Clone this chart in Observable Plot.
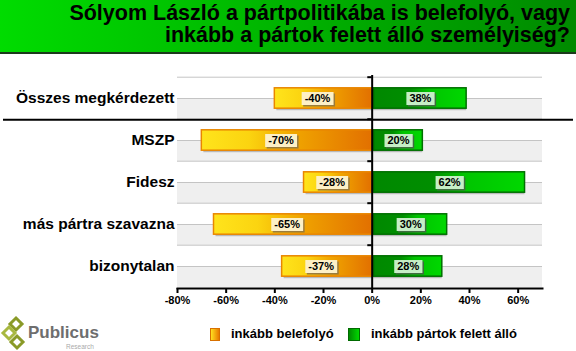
<!DOCTYPE html>
<html><head><meta charset="utf-8">
<script src="https://cdn.jsdelivr.net/npm/d3@7"></script>
<script src="https://cdn.jsdelivr.net/npm/@observablehq/plot@0.6"></script>
<style>
body{margin:0;background:#fff;font-family:"Liberation Sans",Arial,sans-serif;}
#page{position:relative;width:576px;height:351px;overflow:hidden;}
#title{position:absolute;left:0;top:0;width:576px;height:52px;background:linear-gradient(to right,#00dc00,#008a00);border-bottom:2px solid #1c3a1c;box-sizing:content-box;}
#title div{position:absolute;right:6px;top:2px;text-align:right;font-weight:bold;font-size:21.5px;line-height:22px;color:#000;white-space:nowrap;}
#chart{position:absolute;left:0;top:54px;}
#chart svg text{font-weight:bold;}
.leg{position:absolute;top:326px;font-weight:bold;font-size:13px;color:#000;white-space:nowrap;}
.sw{position:absolute;top:328px;width:8px;height:11px;border:1px solid;}
</style></head>
<body><div id="page">
<div id="title"><div>Sólyom László a pártpolitikába is belefolyó, vagy<br>inkább a pártok felett álló személyiség?</div></div>
<div id="chart"></div>
<div class="sw" style="left:210px;background:linear-gradient(to right,#ffe020,#e87a00);border-color:#d87000;"></div>
<div class="leg" style="left:231px;">inkább belefolyó</div>
<div class="sw" style="left:348px;width:10px;background:linear-gradient(to right,#008a00,#00d800);border-color:#006a00;"></div>
<div class="leg" style="left:371px;">inkább pártok felett álló</div>
<svg style="position:absolute;left:0;top:310px" width="110" height="41">
  <g fill="none" stroke-width="3">
    <path d="M16,8 L22,14 L16,20 L10,14 Z" stroke="#8a9a28"/>
    <path d="M9,17 L15,23 L9,29 L3,23 Z" stroke="#a8b840"/>
    <path d="M17,26 L23,32 L17,38 L11,32 Z" stroke="#8a9a28"/>
  </g>
  <text x="28" y="28" font-family="Liberation Sans,Arial" font-weight="bold" font-size="17" fill="#6e6e6e">Publicus</text>
  <text x="66" y="39" font-family="Liberation Sans,Arial" font-size="6.5" fill="#aaaaaa">Research</text>
</svg>
</div>
<script>
const categories = ["Összes megkérdezett", "MSZP", "Fidesz", "más pártra szavazna", "bizonytalan"];
const belefolyo = [-40, -70, -28, -65, -37];
const felett = [38, 20, 62, 30, 28];
const xTicks = [-80, -60, -40, -20, 0, 20, 40, 60];

const neg = categories.map((c, i) => ({cat: c, v: belefolyo[i]}));
const pos = categories.map((c, i) => ({cat: c, v: felett[i]}));
const all = neg.concat(pos);

const BW = 213 / 5;       // band width in px
const half = BW / 2;
const barInset = (BW - 21) / 2;

function defs() {
  const d = d3.create("svg:defs");
  const o = d.append("linearGradient").attr("id", "gOrange").attr("x1", 0).attr("x2", 1).attr("y1", 0).attr("y2", 0);
  [[0, "#ffe41c"], [0.28, "#fbd410"], [0.55, "#f0a400"], [1, "#e27000"]].forEach(([k, c]) => o.append("stop").attr("offset", k).attr("stop-color", c));
  const g = d.append("linearGradient").attr("id", "gGreen").attr("x1", 0).attr("x2", 1).attr("y1", 0).attr("y2", 0);
  [[0, "#008800"], [0.4, "#008e00"], [0.6, "#00c400"], [1, "#00d800"]].forEach(([k, c]) => g.append("stop").attr("offset", k).attr("stop-color", c));
  return d.node();
}

const tag = (name) => (I, s, v, dim, ctx, next) => {
  const g = next(I, s, v, dim, ctx);
  g.setAttribute("class", name);
  return g;
};

const chart = Plot.plot({
  width: 576,
  height: 264,
  marginTop: 21,
  marginBottom: 30,
  marginLeft: 177,
  marginRight: 34,
  style: {fontFamily: "'Liberation Sans', Arial, sans-serif", background: "transparent"},
  x: {domain: [-80, 70]},
  y: {domain: categories, padding: 0},
  marks: [
    defs,
    // grey lower half of each band
    Plot.barX(categories, {x1: -80, x2: 70, y: d => d, fill: "#efefef", insetTop: half}),
    // grid lines at band centres and band tops
    Plot.ruleY(categories, {y: d => d, stroke: "#c4c4c4", strokeWidth: 1}),
    Plot.ruleY(categories, {y: d => d, stroke: "#c4c4c4", strokeWidth: 1, dy: -half}),
    // bar shadows
    Plot.barX(all, {x1: 0, x2: "v", y: "cat", fill: "#777", fillOpacity: 0.45, insetTop: barInset, insetBottom: barInset, dx: 2, dy: 2}),
    // bars
    Plot.barX(neg, {x1: 0, x2: "v", y: "cat", fill: "url(#gOrange)", stroke: "#e98600", strokeWidth: 1.5, insetTop: barInset, insetBottom: barInset}),
    Plot.barX(pos, {x1: 0, x2: "v", y: "cat", fill: "url(#gGreen)", stroke: "#007000", strokeWidth: 1.5, insetTop: barInset, insetBottom: barInset, dx: 2}),
    // zero axis with small ticks
    Plot.ruleX([0], {stroke: "#000", strokeWidth: 2}),
    Plot.ruleY(categories, {y: d => d, x1: -1.8, x2: 0, stroke: "#000", strokeWidth: 2, dy: -half}),
    // separator under "Összes megkérdezett"
    Plot.ruleY([categories[0]], {y: d => d, stroke: "#000", strokeWidth: 2, dy: half,
      render: (I, s, v, dim, ctx, next) => {
        const g = next(I, s, v, dim, ctx);
        d3.select(g).selectAll("line").attr("x1", 3).attr("x2", dim.width - 3);
        return g;
      }}),
    // value labels
    Plot.text(neg, {x: d => d.v / 2, y: "cat", text: d => d.v + "%", dx: -6, fontWeight: "bold", fontSize: 11, fill: "#000", render: tag("labels-neg")}),
    Plot.text(pos, {x: d => d.v / 2, y: "cat", text: d => d.v + "%", dx: 2, fontWeight: "bold", fontSize: 11, fill: "#000", render: tag("labels-pos")}),
    // axes
    Plot.frame({anchor: "bottom", stroke: "#000", strokeWidth: 2}),
    Plot.axisX({ticks: xTicks, tickFormat: d => d + "%", tickSize: 5, tickPadding: 3, fontWeight: "bold", fontSize: 11, stroke: "#000", strokeWidth: 2, fill: "#000", label: null}),
    Plot.axisY({tickSize: 0, tickPadding: 3, fontWeight: "bold", fontSize: 15.5, fill: "#000", label: null})
  ]
});
document.getElementById("chart").append(chart);

// boxes behind the value labels
function boxes(cls, fill, shadow) {
  d3.select(chart).selectAll(`g.${cls} text`).each(function () {
    const b = this.getBBox();
    const p = this.parentNode;
    const x = b.x - 3, y = b.y, w = b.width + 6, h = b.height + 1;
    const tr = this.getAttribute("transform");
    const mk = (dx, f) => {
      const r = document.createElementNS("http://www.w3.org/2000/svg", "rect");
      r.setAttribute("x", x + dx); r.setAttribute("y", y + dx);
      r.setAttribute("width", w); r.setAttribute("height", h);
      r.setAttribute("fill", f);
      if (tr) r.setAttribute("transform", tr);
      p.insertBefore(r, this);
    };
    mk(1.5, shadow);
    mk(0, fill);
  });
}
boxes("labels-neg", "#fdf0c6", "#9a7a3a");
boxes("labels-pos", "#c6eec6", "#3f6a3f");
</script>
</body></html>
